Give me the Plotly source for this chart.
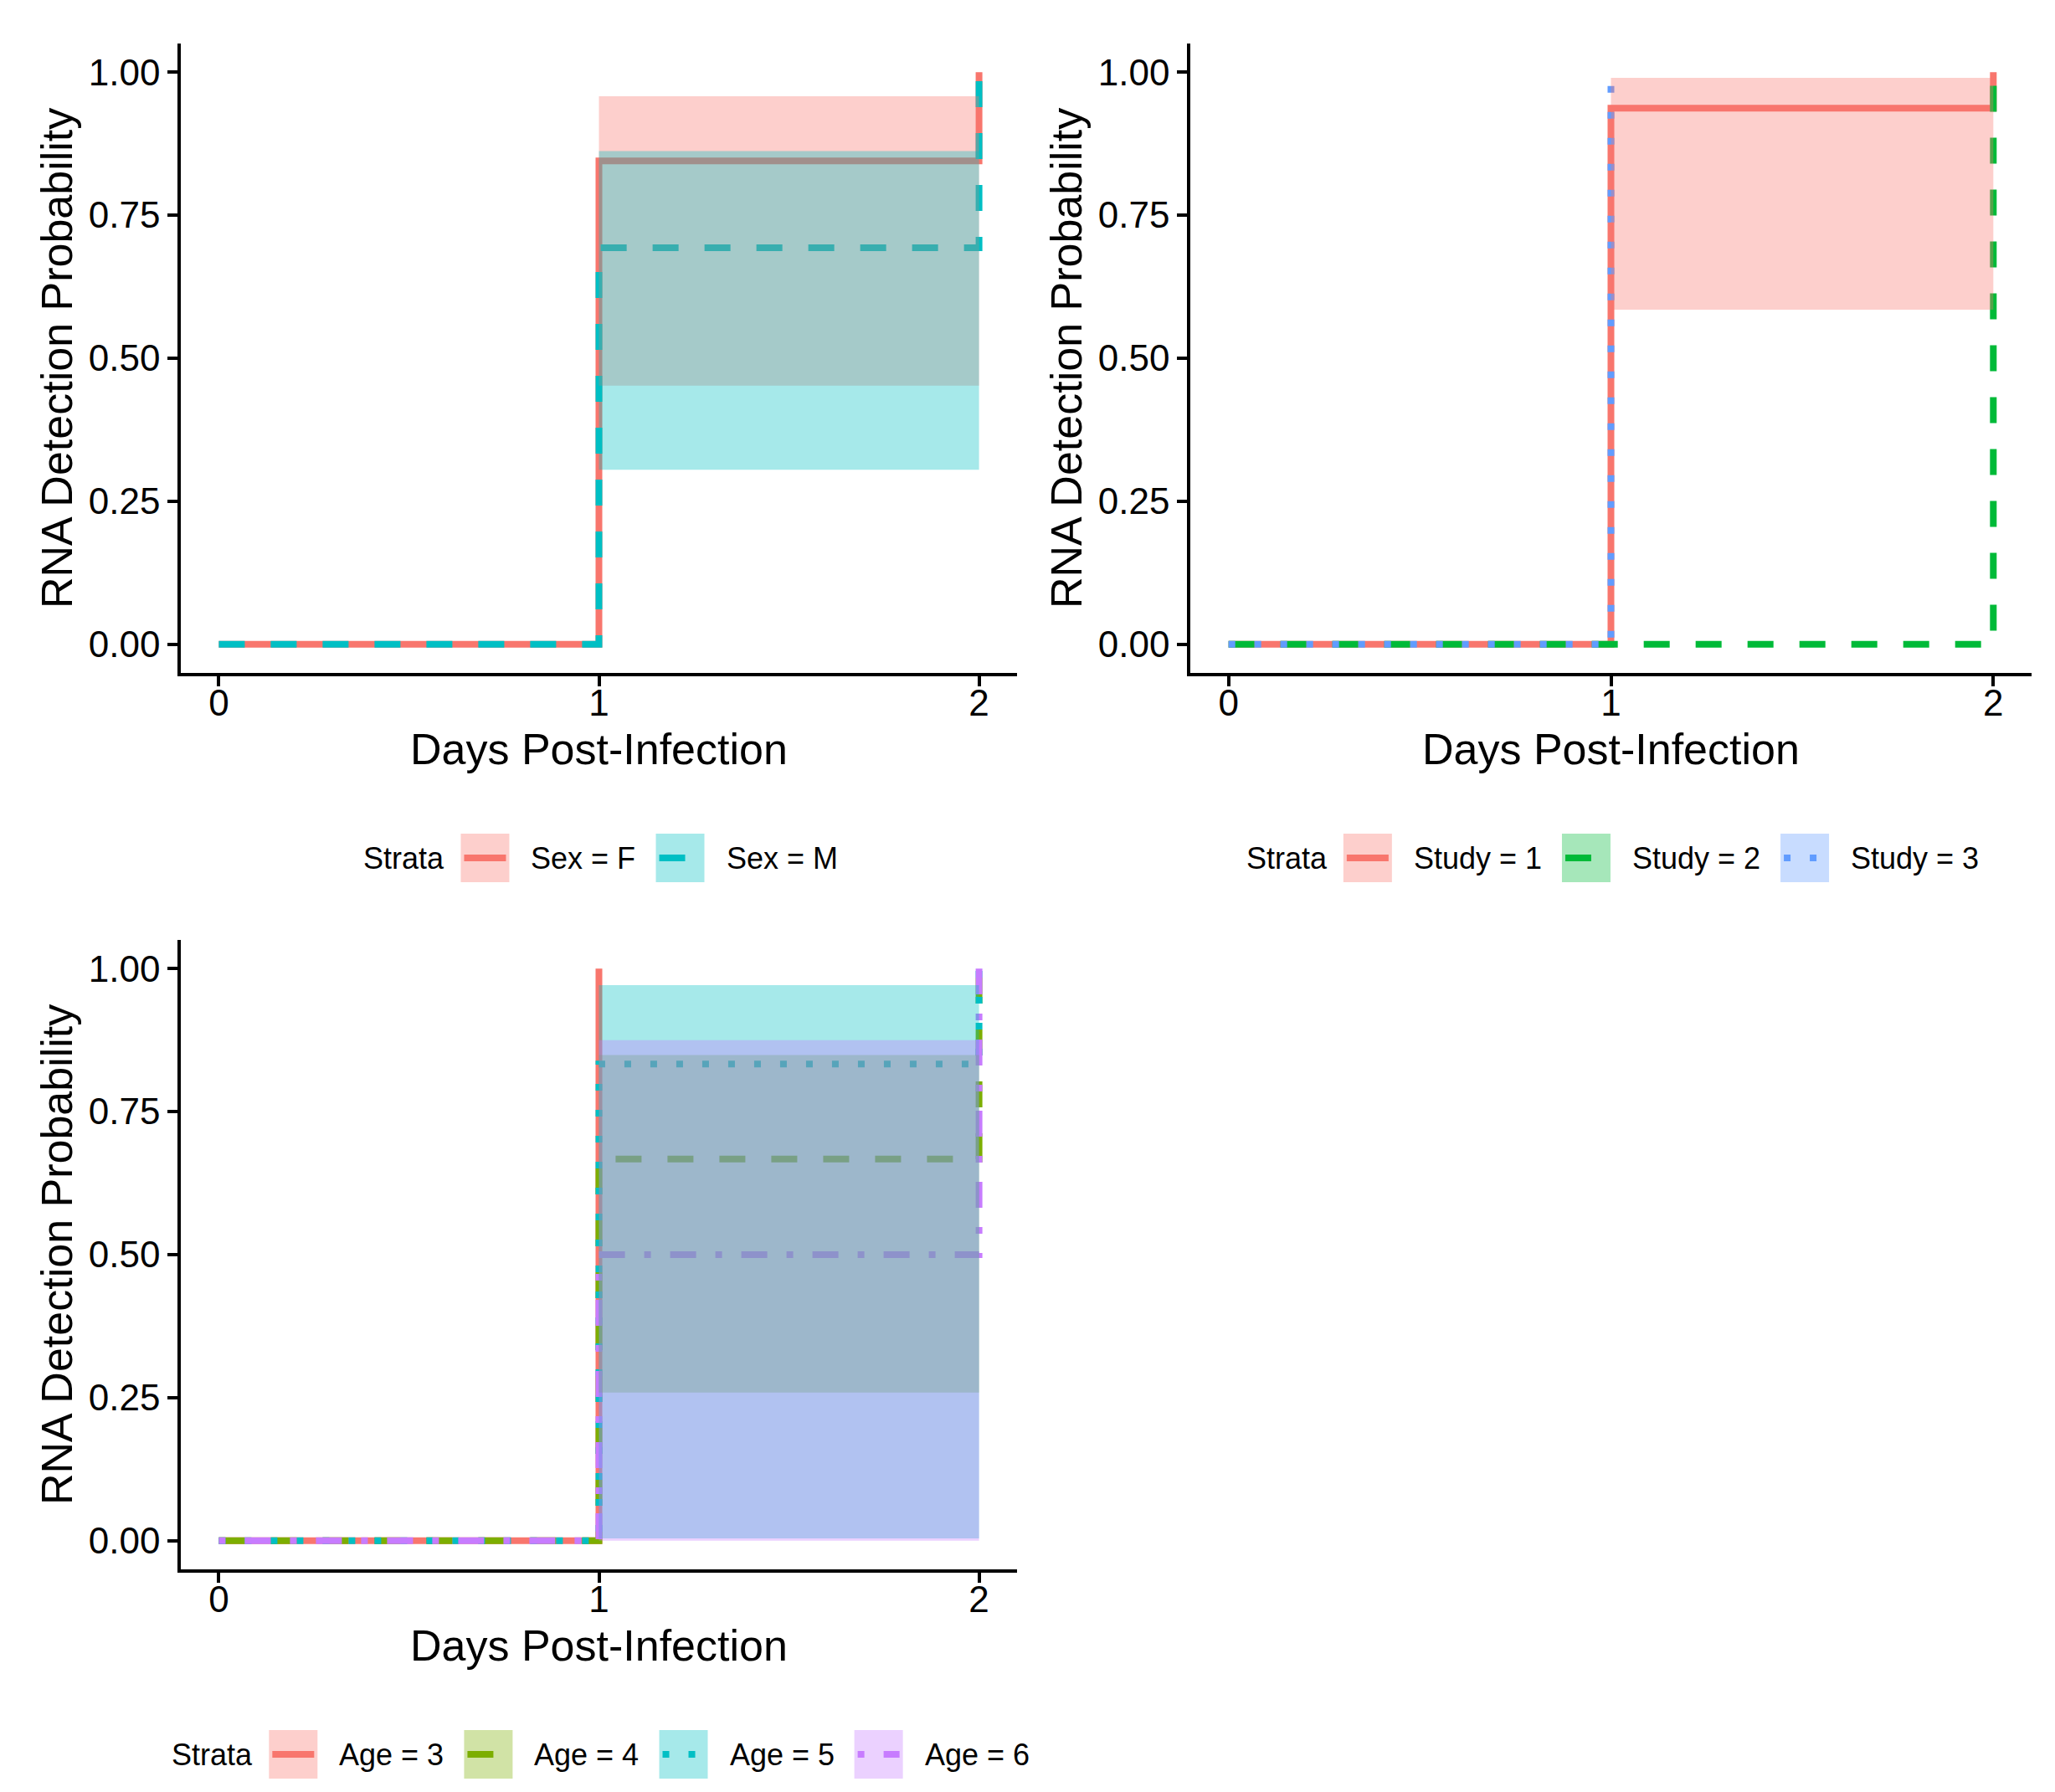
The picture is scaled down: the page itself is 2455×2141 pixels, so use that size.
import plotly.graph_objects as go

# ---------------- data ----------------
x_ticks = [0, 1, 2]
y_ticks = [0, 0.25, 0.5, 0.75, 1.0]
y_ticklabels = ["0.00", "0.25", "0.50", "0.75", "1.00"]
ci_times = [1, 2]

# Panel 1: Sex
sex_strata = ["Sex = F", "Sex = M"]
sex_times = [[0, 1, 2], [0, 1, 2]]
sex_surv = [[0, 0.845, 1.0], [0, 0.693, 1.0]]
sex_lower = [0.452, 0.305]
sex_upper = [0.958, 0.862]

# Panel 2: Study
study_strata = ["Study = 1", "Study = 2", "Study = 3"]
study_times = [[0, 1, 2], [0, 2], [0, 1]]
study_surv = [[0, 0.937, 1.0], [0, 1.0], [0, 1.0]]
study_lower = [0.585, None, None]
study_upper = [0.99, None, None]

# Panel 3: Age
age_strata = ["Age = 3", "Age = 4", "Age = 5", "Age = 6"]
age_times = [[0, 1], [0, 1, 2], [0, 1, 2], [0, 1, 2]]
age_surv = [[0, 1.0], [0, 0.667, 1.0], [0, 0.833, 1.0], [0, 0.5, 1.0]]
age_lower = [None, 0.259, 0.004, 0.0]
age_upper = [None, 0.849, 0.971, 0.875]

# ---------------- styles ----------------
W, H = 2455, 2141
FONT = "Liberation Sans, Arial, sans-serif"
LW = 8
ALPHA = 0.35
DASHES = {
    "solid": "solid",
    "dashed": "31px,31px",
    "dotted": "8px,23px",
    "dotdash": "8px,23px,31px,23px",
}

def rgba(hexc, a):
    h = hexc.lstrip("#")
    r, g, b = int(h[0:2], 16), int(h[2:4], 16), int(h[4:6], 16)
    return f"rgba({r},{g},{b},{a})"

panels = [
    dict(strata=sex_strata, times=sex_times, surv=sex_surv, lo=sex_lower, hi=sex_upper,
         colors=["#F8766D", "#00BFC4"], dashes=["solid", "dashed"],
         px_x=(208, 1207), px_y=(44, 796), xa="x", ya="y", leg_y=1017),
    dict(strata=study_strata, times=study_times, surv=study_surv, lo=study_lower, hi=study_upper,
         colors=["#F8766D", "#00BA38", "#619CFF"], dashes=["solid", "dashed", "dotted"],
         px_x=(1414, 2419), px_y=(44, 796), xa="x2", ya="y2", leg_y=1017),
    dict(strata=age_strata, times=age_times, surv=age_surv, lo=age_lower, hi=age_upper,
         colors=["#F8766D", "#7CAE00", "#00BFC4", "#C77CFF"],
         dashes=["solid", "dashed", "dotted", "dotdash"],
         px_x=(208, 1207), px_y=(1115, 1867), xa="x3", ya="y3", leg_y=2088),
]

def px2x(p):
    return p / W

def px2y(p):
    return 1 - p / H

# Arial advance widths (per 1000 em) for legend layout
CW = {"S": 667, "t": 278, "r": 333, "a": 556, "e": 556, "x": 500, " ": 278, "=": 584,
      "F": 611, "M": 833, "u": 556, "d": 556, "y": 500, "A": 667, "g": 556}
def text_w(s, size):
    return sum(CW.get(c, 556) for c in s) / 1000 * size

fig = go.Figure()
shapes = []
annotations = []

for i, p in enumerate(panels):
    # step lines
    for name, t, s, col, d in zip(p["strata"], p["times"], p["surv"], p["colors"], p["dashes"]):
        fig.add_trace(go.Scatter(
            x=t, y=s, mode="lines", line=dict(shape="hv", color=col, width=LW, dash=DASHES[d]),
            name=name, showlegend=False, xaxis=p["xa"], yaxis=p["ya"], hoverinfo="skip"))
    # confidence ribbons
    for name, lo, hi, col in zip(p["strata"], p["lo"], p["hi"], p["colors"]):
        if lo is None:
            continue
        t0, t1 = ci_times
        fig.add_trace(go.Scatter(
            x=[t0, t1, t1, t0, t0], y=[lo, lo, hi, hi, lo], mode="lines", fill="toself",
            fillcolor=rgba(col, ALPHA), line=dict(width=0), name=name + " CI",
            showlegend=False, xaxis=p["xa"], yaxis=p["ya"], hoverinfo="skip"))

    sfx = "" if i == 0 else str(i + 1)
    axis_common = dict(showline=True, linecolor="black", linewidth=3.5, ticks="outside",
                       ticklen=12, tickwidth=3.5, tickcolor="black", showgrid=False,
                       zeroline=False, tickfont=dict(family=FONT, size=44, color="black"))
    fig.update_layout(**{
        "xaxis" + sfx: dict(domain=[px2x(p["px_x"][0]), px2x(p["px_x"][1])], range=[-0.1, 2.1],
                            tickvals=x_ticks, anchor="y" + sfx, ticklabelstandoff=-18,
                            **axis_common),
        "yaxis" + sfx: dict(domain=[px2y(p["px_y"][1]), px2y(p["px_y"][0])], range=[-0.05, 1.05],
                            tickvals=y_ticks, ticktext=y_ticklabels, anchor="x" + sfx,
                            **axis_common),
    })

    cx = (p["px_x"][0] + p["px_x"][1]) / 2
    cy = (p["px_y"][0] + p["px_y"][1]) / 2
    annotations.append(dict(text="Days Post-Infection", x=px2x(cx), y=px2y(p["px_y"][1] + 91),
                            xref="paper", yref="paper", showarrow=False, xanchor="center",
                            yanchor="middle", font=dict(family=FONT, size=52, color="black")))
    annotations.append(dict(text="RNA Detection Probability", x=px2x(p["px_x"][0] - 148),
                            y=px2y(cy), xref="paper", yref="paper", showarrow=False,
                            textangle=-90, xanchor="center", yanchor="middle",
                            font=dict(family=FONT, size=52, color="black")))

    # legend (drawn below each panel)
    LS = 36
    key_w, key_h = 58, 58
    widths = [text_w(n, LS) for n in p["strata"]]
    total = text_w("Strata", LS) + 22 + sum(key_w + 24 + w for w in widths) + 26 * (len(widths) - 1)
    x0 = cx - total / 2
    ly = p["leg_y"]
    annotations.append(dict(text="Strata", x=px2x(x0), y=px2y(ly), xref="paper", yref="paper",
                            showarrow=False, xanchor="left", yanchor="middle",
                            font=dict(family=FONT, size=LS, color="black")))
    xc = x0 + text_w("Strata", LS) + 22
    for name, w, col, d in zip(p["strata"], widths, p["colors"], p["dashes"]):
        shapes.append(dict(type="rect", xref="paper", yref="paper", x0=px2x(xc), x1=px2x(xc + key_w),
                           y0=px2y(ly + key_h / 2), y1=px2y(ly - key_h / 2),
                           fillcolor=rgba(col, ALPHA), line=dict(width=0), layer="above"))
        shapes.append(dict(type="line", xref="paper", yref="paper", x0=px2x(xc + 4), x1=px2x(xc + key_w - 4),
                           y0=px2y(ly), y1=px2y(ly), line=dict(color=col, width=LW, dash=DASHES[d]),
                           layer="above"))
        annotations.append(dict(text=name, x=px2x(xc + key_w + 24), y=px2y(ly), xref="paper",
                                yref="paper", showarrow=False, xanchor="left", yanchor="middle",
                                font=dict(family=FONT, size=LS, color="black")))
        xc += key_w + 24 + w + 26

fig.update_layout(width=W, height=H, margin=dict(l=0, r=0, t=0, b=0),
                  paper_bgcolor="white", plot_bgcolor="white", showlegend=False,
                  shapes=shapes, annotations=annotations, font=dict(family=FONT))

fig.write_html("out.html")
